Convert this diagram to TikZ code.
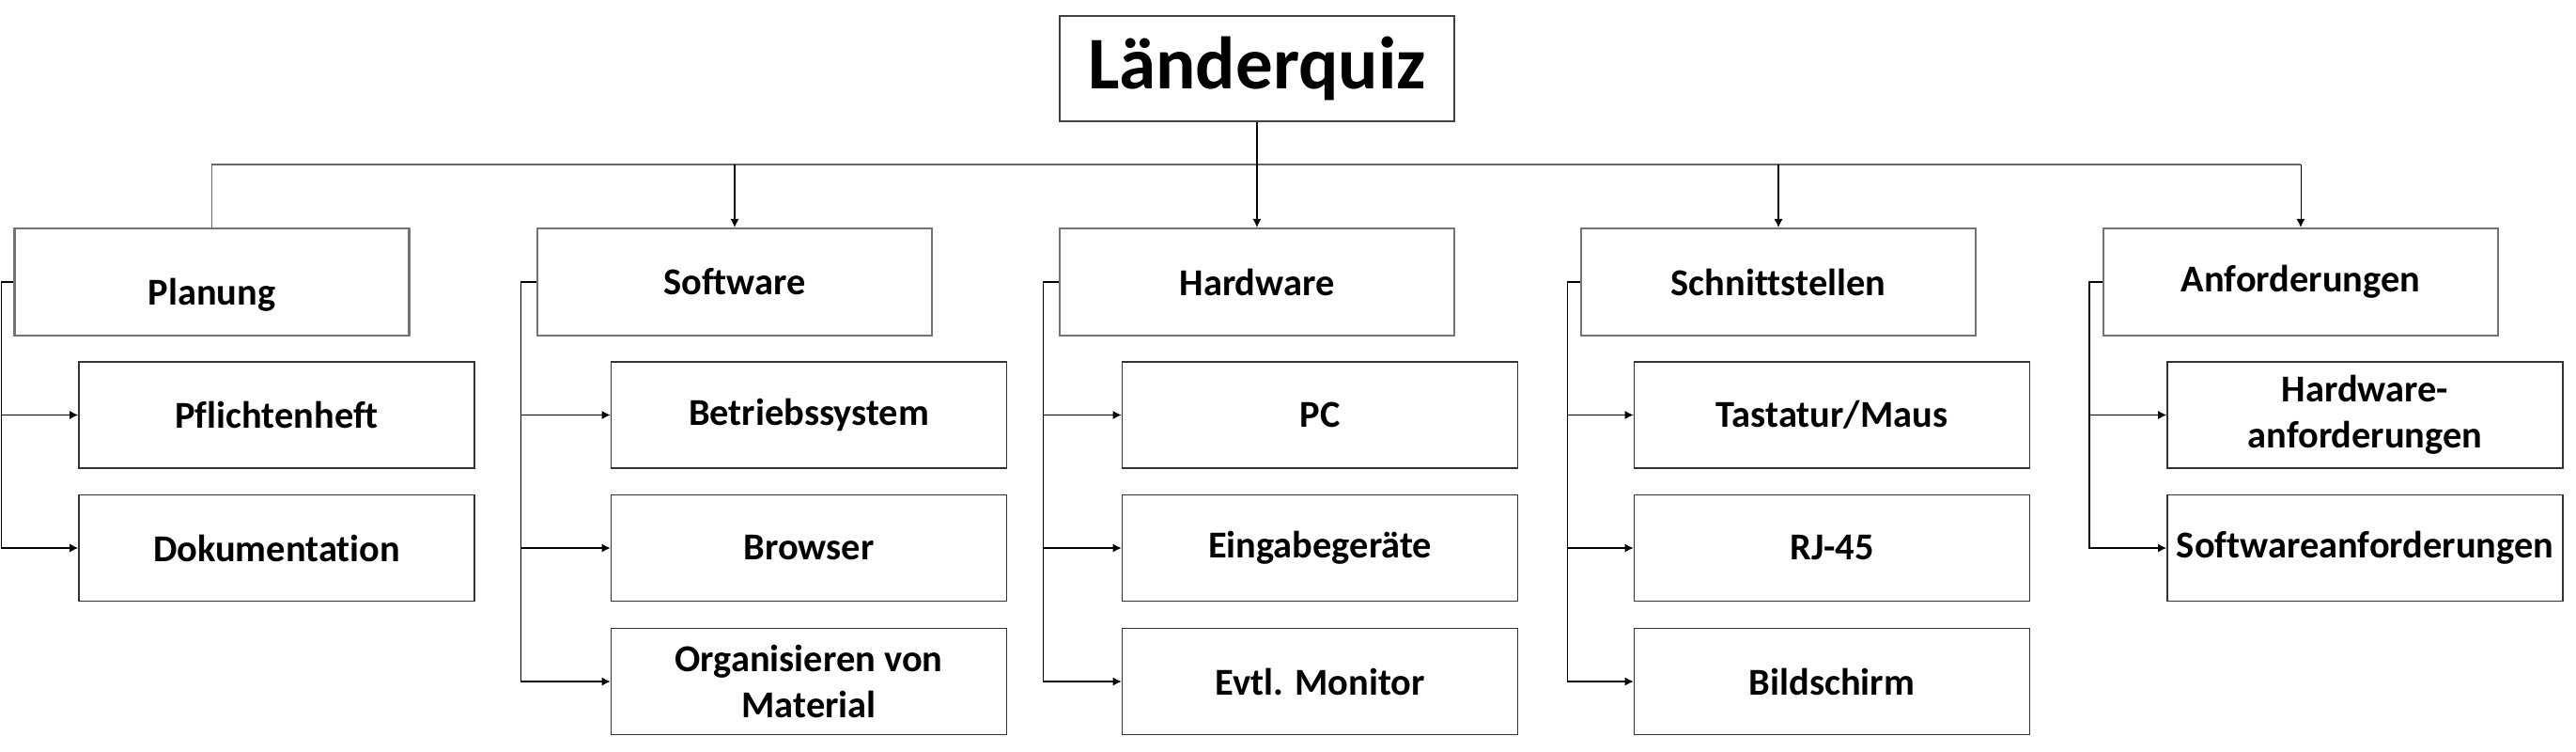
\documentclass[tikz,border=0pt]{standalone}
\usepackage{fontspec}
\setmainfont{Carlito}[Ligatures=NoCommon]
\usepackage{xcolor}
\usetikzlibrary{arrows.meta}
\tikzset{%
  quizTitle/.style={rectangle, draw=black!75, line width=0.6pt, minimum width=4.2cm, minimum height=1.12cm, font=\fontsize{22.5}{26}\selectfont\bfseries, align=center},
  category/.style={rectangle, draw=black!55, line width=0.6pt, minimum width=4.2cm, minimum height=1.14cm, font=\fontsize{11.5}{13.5}\selectfont\bfseries, align=center},
  task/.style={rectangle, draw=black!80, line width=0.5pt, minimum width=4.21cm, minimum height=1.13cm, inner xsep=1mm, font=\fontsize{11.5}{14}\selectfont\bfseries, align=center},
  % connectors
  busline/.style={draw=black!60, line width=0.45pt},
  branch/.style={draw=black, line width=0.3pt, -{Latex[length=0.9mm,width=0.9mm]}},
}

\begin{document}
\begin{tikzpicture}
  \useasboundingbox (0,0) rectangle (27.42,-7.99);

  \node[quizTitle] (quiz) at (13.38,-0.73) {Länderquiz};

  \node[category] (planung) at (2.255,-3.00) {\raisebox{-2.4mm}[0pt][0pt]{Planung}};
  \node[category] (software) at (7.82,-3.00) {Software};
  \node[category] (hardware) at (13.38,-3.00) {Hardware};
  \node[category] (schnittstellen) at (18.93,-3.00) {Schnittstellen};
  \node[category] (anforderungen) at (24.49,-3.00) {Anforderungen};

  \node[task] (pflichtenheft) at (2.945,-4.415) {Pflichtenheft};
  \node[task] (dokumentation) at (2.945,-5.83) {Dokumentation};

  \node[task] (betriebssystem) at (8.61,-4.415) {Betriebssystem};
  \node[task] (browser) at (8.61,-5.83) {Browser};
  \node[task] (material) at (8.61,-7.25) {Organisieren von\\Material};

  \node[task] (pc) at (14.05,-4.415) {PC};
  \node[task] (eingabe) at (14.05,-5.83) {Eingabegeräte};
  \node[task] (monitor) at (14.05,-7.25) {Evtl. Monitor};

  \node[task] (tastatur) at (19.5,-4.415) {Tastatur/Maus};
  \node[task] (rj) at (19.5,-5.83) {RJ-45};
  \node[task] (bildschirm) at (19.5,-7.25) {Bildschirm};

  \node[task] (hwanf) at (25.175,-4.415) {Hardware-\\anforderungen};
  \node[task] (swanf) at (25.175,-5.83) {Softwareanforderungen};

  % top level
  \coordinate (bus) at (0,-1.75);
  \draw[busline] (planung.north) -- (planung.north |- bus) -- (anforderungen.north |- bus);
  \draw[branch] (quiz.south) -- (hardware.north);
  \draw[branch] (software.north |- bus) -- (software.north);
  \draw[branch] (schnittstellen.north |- bus) -- (schnittstellen.north);
  \draw[branch] (anforderungen.north |- bus) -- (anforderungen.north);

  % sub items
  \draw[branch] (planung.west) -- ++(-0.13,0) |- (pflichtenheft.west);
  \draw[branch] (planung.west) -- ++(-0.13,0) |- (dokumentation.west);

  \draw[branch] (software.west) -- ++(-0.16,0) |- (betriebssystem.west);
  \draw[branch] (software.west) -- ++(-0.16,0) |- (browser.west);
  \draw[branch] (software.west) -- ++(-0.16,0) |- (material.west);

  \draw[branch] (hardware.west) -- ++(-0.16,0) |- (pc.west);
  \draw[branch] (hardware.west) -- ++(-0.16,0) |- (eingabe.west);
  \draw[branch] (hardware.west) -- ++(-0.16,0) |- (monitor.west);

  \draw[branch] (schnittstellen.west) -- ++(-0.13,0) |- (tastatur.west);
  \draw[branch] (schnittstellen.west) -- ++(-0.13,0) |- (rj.west);
  \draw[branch] (schnittstellen.west) -- ++(-0.13,0) |- (bildschirm.west);

  \draw[branch] (anforderungen.west) -- ++(-0.14,0) |- (hwanf.west);
  \draw[branch] (anforderungen.west) -- ++(-0.14,0) |- (swanf.west);
\end{tikzpicture}
\end{document}
